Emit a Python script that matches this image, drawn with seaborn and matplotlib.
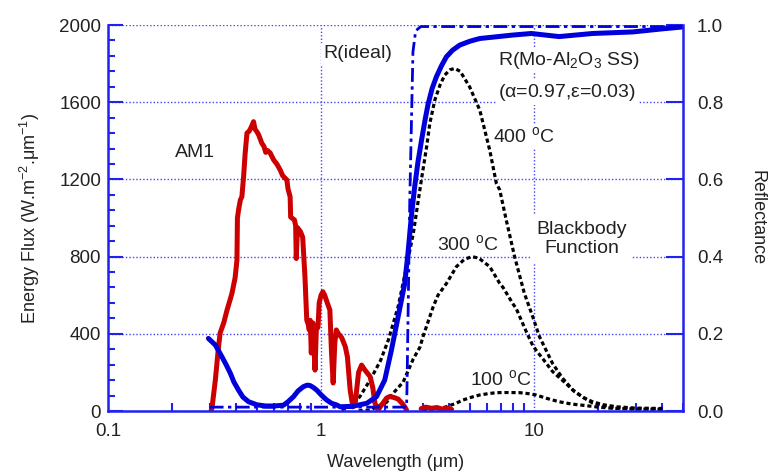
import numpy as np
import pandas as pd
import matplotlib
matplotlib.use("Agg")
import matplotlib.pyplot as plt
import seaborn as sns
from matplotlib.ticker import FixedLocator, LogLocator, NullFormatter, MultipleLocator

# ---------------- data ----------------
wl_am1 = [0.305, 0.308, 0.319, 0.33, 0.336, 0.35, 0.362, 0.375, 0.382, 0.395, 0.403,
          0.405, 0.41, 0.418, 0.425, 0.433, 0.44, 0.449, 0.46, 0.47, 0.482, 0.49, 0.50,
          0.51, 0.527, 0.54, 0.55, 0.56, 0.577, 0.60, 0.62, 0.643, 0.66, 0.691, 0.70,
          0.716, 0.72, 0.75, 0.76, 0.765, 0.775, 0.80, 0.82, 0.84, 0.857, 0.87, 0.88,
          0.89, 0.90, 0.91, 0.917, 0.93, 0.937, 0.95, 0.968, 0.98, 1.0, 1.02, 1.04,
          1.07, 1.10, 1.12, 1.14, 1.16, 1.18, 1.20, 1.25, 1.30, 1.33, 1.36, 1.37, 1.41,
          1.45, 1.50, 1.55, 1.60, 1.70, 1.75, 1.79, 1.85, 1.95, 2.03, 2.10, 2.20, 2.30,
          2.40, 2.47, 2.52]
flux_am1 = [0, 20, 160, 330, 404, 460, 523, 580, 611, 690, 782,
            1000, 1041, 1093, 1110, 1214, 1330, 1440, 1450, 1470, 1499, 1460, 1447,
            1430, 1388, 1370, 1340, 1350, 1337, 1300, 1280, 1249, 1220, 1197, 1150,
            1110, 1005, 990, 960, 790, 950, 930, 900, 700, 471, 450, 420,
            470, 300, 440, 456, 300, 212, 420, 435, 560, 600, 618, 600,
            560, 523, 300, 145, 350, 420, 404, 380, 333, 280, 150, 109, 22,
            50, 200, 238, 215, 178, 120, 40, 5, 40, 67, 75, 70, 62,
            40, 22, 5]
wl_am1_tail = [2.95, 3.1, 3.3, 3.5, 3.7, 3.9, 4.1]
flux_am1_tail = [12, 20, 14, 18, 10, 15, 8]

wl_mo = [0.296, 0.319, 0.343, 0.36, 0.375, 0.39, 0.41, 0.43, 0.457, 0.50, 0.55, 0.60,
         0.666, 0.70, 0.742, 0.78, 0.826, 0.86, 0.888, 0.92, 0.955, 1.0, 1.06, 1.12,
         1.18, 1.23, 1.40, 1.64, 1.82, 1.99, 2.14, 2.30, 2.39, 2.47, 2.56, 2.65, 2.75,
         2.85, 2.96, 3.08, 3.18, 3.32, 3.48, 3.68, 3.88, 4.15, 4.48, 5.0, 5.56, 7.96,
         9.7, 13.1, 18.8, 29.0, 40.0, 50.0]
refl_mo = [0.188, 0.171, 0.14, 0.118, 0.098, 0.075, 0.054, 0.036, 0.024, 0.016, 0.013, 0.013,
           0.015, 0.024, 0.037, 0.052, 0.063, 0.067, 0.066, 0.061, 0.054, 0.042, 0.029, 0.02,
           0.016, 0.011, 0.012, 0.02, 0.037, 0.08, 0.158, 0.244, 0.29, 0.33, 0.41, 0.50, 0.58,
           0.645, 0.70, 0.755, 0.795, 0.835, 0.866, 0.895, 0.918, 0.935, 0.948, 0.958,
           0.965, 0.974, 0.978, 0.970, 0.978, 0.982, 0.99, 0.995]

wl_ideal = [0.30, 2.52, 2.53, 2.61, 2.70, 2.78, 2.94, 50.0]
refl_ideal = [0.01, 0.01, 0.05, 0.55, 0.93, 0.985, 0.996, 0.996]

wl_bb400 = [1.25, 1.37, 1.52, 1.70, 1.90, 2.07, 2.30, 2.50, 2.71, 2.96, 3.13, 3.24, 3.42,
            3.62, 3.81, 4.03, 4.24, 4.50, 4.98, 5.56, 6.19, 6.65, 6.90, 7.40, 8.10, 9.0,
            9.85, 10.6, 12.2, 13.6, 15.2, 17.0, 18.8, 21.0, 24.3, 30.0, 40.0]
flux_bb400 = [5, 22, 74, 161, 260, 368, 540, 730, 920, 1200, 1369, 1490, 1611,
              1690, 1741, 1768, 1775, 1760, 1680, 1559, 1352, 1180, 1145, 990, 800, 610,
              489, 385, 247, 170, 109, 70, 48, 33, 22, 15, 13]

wl_bb300 = [1.50, 1.70, 1.89, 2.03, 2.18, 2.43, 2.71, 2.91, 3.02, 3.36, 3.54, 3.88, 4.32,
            4.70, 5.10, 5.50, 6.19, 6.90, 7.15, 7.96, 8.25, 9.2, 9.85, 10.2, 11.0, 12.2,
            14.1, 15.5, 17.5, 18.8, 23.4, 30.0, 40.0]
flux_bb300 = [1, 5, 30, 45, 92, 150, 270, 330, 390, 540, 600, 661, 748,
              785, 800, 792, 748, 661, 640, 555, 530, 410, 340, 316, 270, 205,
              143, 100, 62, 42, 16, 11, 9]

wl_bb100 = [3.0, 3.5, 3.88, 4.3, 4.64, 5.1, 5.56, 6.1, 6.65, 7.5, 8.55, 9.4, 10.2, 11.5,
            13.1, 15.0, 17.5, 20.0, 23.4, 30.0, 40.0]
flux_bb100 = [3, 10, 22, 40, 57, 72, 83, 90, 95, 96, 95, 90, 83, 65,
              48, 36, 28, 20, 14, 10, 9]

flux_ticks = [0, 400, 800, 1200, 1600, 2000]
refl_ticks = [0.0, 0.2, 0.4, 0.6, 0.8, 1.0]
refl_tick_labels = ["0.0", "0.2", "0.4", "0.6", "0.8", "1.0"]
wl_ticks = [0.1, 1, 10]
wl_tick_labels = ["0.1", "1", "10"]

# ---------------- style ----------------
sns.set_theme(style="white")
plt.rcParams["font.family"] = ["Liberation Sans", "DejaVu Sans"]
plt.rcParams["mathtext.fontset"] = "custom"
plt.rcParams["mathtext.rm"] = "Liberation Sans"
plt.rcParams["mathtext.it"] = "Liberation Sans:italic"
plt.rcParams["mathtext.default"] = "regular"

BLUE = "#0000DD"
AXBLUE = "#2222EE"
GRIDBLUE = "#4444FF"
RED = "#CC0000"

fig = plt.figure(figsize=(7.79, 4.75), dpi=100)
ax = fig.add_axes([108 / 779, 64 / 475, 575 / 779, 386 / 475])
ax2 = ax.twinx()

# black-body curves (left axis)
dot = (0, (1.3, 0.9))
for w, f in [(wl_bb400, flux_bb400), (wl_bb300, flux_bb300), (wl_bb100, flux_bb100)]:
    sns.lineplot(x=w, y=f, ax=ax, color="black", lw=2.3, linestyle=dot,
                 sort=False, estimator=None)

# AM1 solar spectrum
sns.lineplot(x=wl_am1, y=flux_am1, ax=ax, color=RED, lw=3.6, sort=False, estimator=None)
sns.lineplot(x=wl_am1_tail, y=flux_am1_tail, ax=ax, color=RED, lw=3.6, sort=False,
             estimator=None)

# reflectance curves (right axis)
sns.lineplot(x=wl_ideal, y=refl_ideal, ax=ax2, color=BLUE, lw=2.0,
             linestyle=(0, (5, 1.6, 1.2, 1.6)), sort=False, estimator=None, clip_on=False)
sns.lineplot(x=wl_mo, y=refl_mo, ax=ax2, color=BLUE, lw=3.6, sort=False, estimator=None)

for a in (ax, ax2):
    a.set_xscale("log")
    a.set_xlim(0.1, 50)
    a.patch.set_visible(False)
ax.set_ylim(0, 2000)
ax2.set_ylim(0, 1)

# ticks
ax.xaxis.set_major_locator(FixedLocator(wl_ticks))
ax.set_xticklabels(wl_tick_labels)
ax.xaxis.set_minor_locator(LogLocator(base=10, subs=np.arange(2, 10)))
ax.xaxis.set_minor_formatter(NullFormatter())
ax.set_yticks(flux_ticks)
ax.set_yticklabels([str(v) for v in flux_ticks])
ax.yaxis.set_minor_locator(MultipleLocator(80))
ax2.set_yticks(refl_ticks)
ax2.set_yticklabels(refl_tick_labels)

ax.tick_params(axis="y", which="major", direction="in", length=11, width=1.5,
               color=AXBLUE, labelsize=13.5, pad=5, labelcolor="#222222")
ax.tick_params(axis="y", which="minor", direction="in", length=5, width=1.5,
               color=AXBLUE, left=True)
ax.tick_params(axis="x", which="major", direction="in", length=9, width=1.5,
               color=AXBLUE, labelsize=13.5, pad=9, labelcolor="#222222")
ax.tick_params(axis="x", which="minor", direction="in", length=6, width=1.5,
               color=AXBLUE, bottom=True)
ax.tick_params(right=False, top=False, which="both")
ax2.tick_params(axis="y", which="major", direction="in", length=12, width=1.5,
                color=AXBLUE, labelsize=13.5, pad=10, labelcolor="#222222")
ax2.tick_params(axis="x", which="both", bottom=False, top=False, labelbottom=False)

# grid
ax.grid(True, which="major", axis="both", color=GRIDBLUE, lw=1.0, linestyle=(0, (1, 1.5)))
ax.grid(False, which="minor")
ax2.grid(False)

for a in (ax, ax2):
    for s in ["left", "bottom", "right"]:
        a.spines[s].set_color(AXBLUE)
        a.spines[s].set_linewidth(1.8)
    a.spines["top"].set_visible(False)
ax.spines["right"].set_visible(False)
ax2.spines["left"].set_visible(False)
ax2.spines["bottom"].set_visible(False)

# labels
ax.set_xlabel("Wavelength (\u03bcm)", fontsize=13, color="#222222", labelpad=10)
ax.set_ylabel("Energy Flux (W.m$^{-2}$.\u03bcm$^{-1}$)", fontsize=13, color="#222222",
              labelpad=12)
ax2.set_ylabel("Reflectance", fontsize=13, color="#222222", rotation=270,
               va="bottom", labelpad=18)

box = dict(facecolor="white", edgecolor="none", pad=1.5)
tk = dict(fontsize=14, color="#222222")
ax.text(1.02, 1827, "R(ideal)", ha="left", va="baseline", bbox=box, **tk)
ax.text(0.207, 1317, "AM1", ha="left", va="baseline", **tk)
ax.text(6.75, 1792, "R(Mo-Al$_2$O$_3$ SS)", ha="left", va="baseline", bbox=box, **tk)
ax.text(6.75, 1628, "($\\alpha$=0.97,$\\varepsilon$=0.03)", ha="left", va="baseline",
        bbox=box, **tk)
ax.text(6.39, 1395, "400 $^{o}$C", ha="left", va="baseline", bbox=box, **tk)
ax.text(3.49, 834, "300 $^{o}$C", ha="left", va="baseline", **tk)
ax.text(4.99, 135, "100 $^{o}$C", ha="left", va="baseline", bbox=box, **tk)
ax.text(16.7, 817, "Blackbody\nFunction", ha="center", va="baseline",
        multialignment="center", linespacing=1.2, bbox=dict(facecolor="white",
        edgecolor="none", pad=4), **tk)

fig.savefig("out.png", dpi=100)
